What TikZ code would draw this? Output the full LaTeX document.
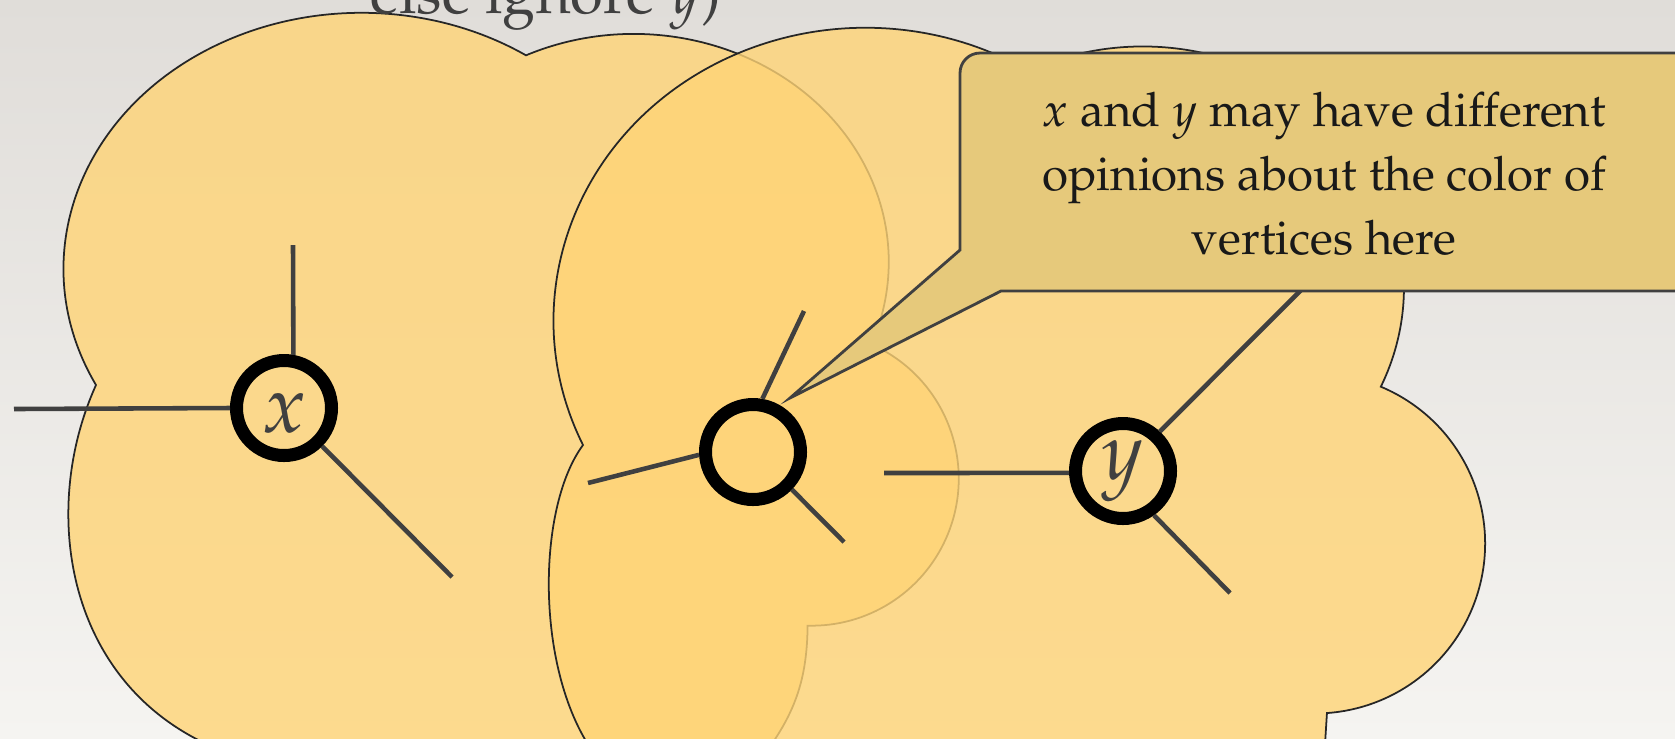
\documentclass[tikz,border=0pt]{standalone}
\usepackage[T1]{fontenc}
\usepackage{mathpazo}
\usepackage{tikz}
\definecolor{PaperTop}{HTML}{E0DDD9}
\definecolor{PaperBottom}{HTML}{F5F4F1}
\definecolor{CloudYellow}{HTML}{FFD476}
\definecolor{NoteGold}{HTML}{E6C97B}
\definecolor{InkGray}{HTML}{404040}

\begin{document}
\begin{tikzpicture}[
  cloud/.style={fill=CloudYellow, fill opacity=0.8, draw=black!85, line width=0.5pt},
  spoke/.style={draw=InkGray, line width=1.3pt},
  ring/.style={circle, draw=black, line width=3.7pt, minimum size=0.95cm, inner sep=0pt,
    text=InkGray, font=\fontsize{23}{23}\selectfont, text depth=0pt, text height=1ex},
  note/.style={fill=NoteGold, draw=InkGray, line width=0.8pt}
]
  \useasboundingbox (0,0) rectangle (16.75,-7.38);
  \clip (0,0) rectangle (16.75,-7.38);
  \shade[top color=PaperTop, bottom color=PaperBottom] (0,0) rectangle (16.75,-7.38);

  % neighbourhood of x
  \draw[cloud] (2.5,-7.6) .. controls (0.7,-7.1) and (0.35,-5.2) .. (0.96,-3.85)
    arc[start angle=207, end angle=56.5, x radius=2.98, y radius=2.56]
    arc[start angle=115, end angle=-21.2, x radius=2.55, y radius=2.28]
    arc[start angle=66, end angle=-91.6, radius=1.47]
    .. controls (8.07,-6.8) and (7.95,-7.15) .. (7.6,-7.6) -- cycle;
  % neighbourhood of y
  \draw[cloud] (5.99,-7.6) .. controls (5.35,-6.8) and (5.35,-5.1) .. (5.83,-4.45)
    arc[start angle=205.1, end angle=58.5, x radius=3.12, y radius=2.93]
    arc[start angle=116, end angle=-24.3, x radius=2.61, y radius=2.41]
    arc[start angle=67.25, end angle=-86, radius=1.70]
    -- (13.24,-7.6) -- cycle;

  \node[ring, text height=14pt] (vx) at (2.84,-4.08) {$x$};
  \node[ring] (vm) at (7.53,-4.52) {};
  \node[ring] (vy) at (11.23,-4.71) {$y$};

  \coordinate (xt) at (2.93,-2.45);
  \coordinate (xl) at (0.14,-4.09);
  \coordinate (xb) at (4.52,-5.77);
  \coordinate (mt) at (8.04,-3.11);
  \coordinate (ml) at (5.88,-4.83);
  \coordinate (mb) at (8.44,-5.42);
  \coordinate (yl) at (8.84,-4.73);
  \coordinate (yt) at (13.12,-2.79);
  \coordinate (yb) at (12.30,-5.93);

  \foreach \from/\to in {vx.80/xt, vx.180/xl, vx.-45/xb, vm.80/mt, vm.183/ml,
                         vm.-44/mb, vy.182/yl, vy.47/yt, vy.-55/yb}
    \draw[spoke] (\from) -- (\to);

  % callout
  \draw[note] (17.2,-2.91) -- (10.01,-2.91) -- (7.90,-3.98) -- (9.60,-2.50) -- (9.60,-0.73)
    arc[start angle=180, end angle=90, radius=0.2] -- (17.2,-0.53) -- cycle;
  \node[align=center, font=\fontsize{13.5}{18.2}\selectfont, text=black!90] (remark)
    at (13.24,-1.74) {$x$ and $y$ may have different\\opinions about the color of\\vertices here};

  \node[anchor=base west, inner sep=0pt, font=\fontsize{17}{20}\selectfont, text=InkGray]
    (rule) at (3.70,-0.13) {else ignore $y$)};
\end{tikzpicture}
\end{document}
